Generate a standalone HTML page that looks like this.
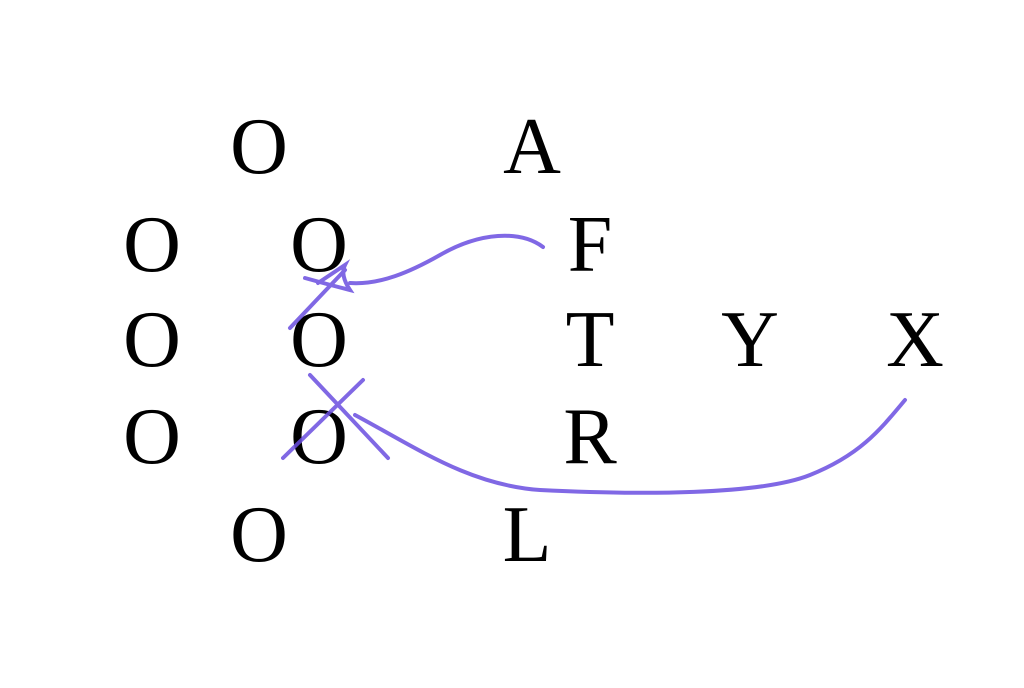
<!DOCTYPE html>
<html><head><style>
body{margin:0;background:#fff;width:1024px;height:688px;overflow:hidden;position:relative}
svg{position:absolute;left:0;top:0}
.t{position:absolute;font-family:"Liberation Serif","Times New Roman",Times,serif;font-size:80px;line-height:80px;width:100px;text-align:center;color:#000}
</style></head><body>
<div class="t" style="left:209px;top:107px">O</div><div class="t" style="left:482px;top:107px">A</div>
<div class="t" style="left:102px;top:205px">O</div><div class="t" style="left:269px;top:205px">O</div><div class="t" style="left:540px;top:205px">F</div>
<div class="t" style="left:102px;top:300px">O</div><div class="t" style="left:269px;top:300px">O</div><div class="t" style="left:540px;top:300px">T</div><div class="t" style="left:700px;top:300px">Y</div><div class="t" style="left:865px;top:300px">X</div>
<div class="t" style="left:102px;top:397px">O</div><div class="t" style="left:269px;top:397px">O</div><div class="t" style="left:540px;top:397px">R</div>
<div class="t" style="left:209px;top:495px">O</div><div class="t" style="left:477px;top:495px">L</div>
<svg width="1024" height="688" viewBox="0 0 1024 688">
<g fill="none" stroke="#6a4ee0" stroke-width="4" stroke-linecap="round" opacity="0.85">
<path d="M543 247 C520 230 480 232 440 255 C410 272 380 285 350 283"/>
<path d="M290 328 L345 270"/>
<path d="M305 278 Q330 285 350 290 Q340 275 345 265 Q330 275 318 283"/>
<path d="M310 375 L388 458"/>
<path d="M283 458 L363 380"/>
<path d="M355 415 C420 450 470 485 540 490 C640 495 760 495 810 475 C860 455 880 430 905 400"/>
</g>
</svg>
</body></html>
